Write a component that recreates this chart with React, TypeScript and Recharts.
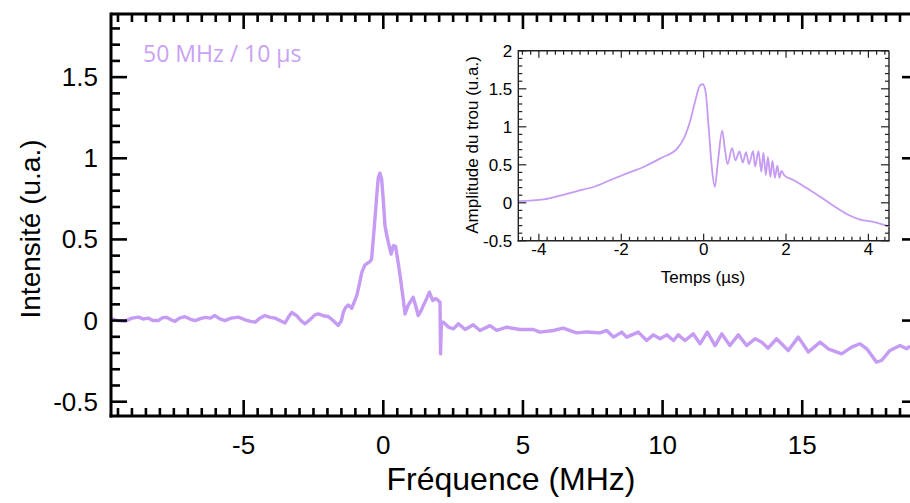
import React from 'react';
import { LineChart, Line, XAxis, YAxis, ReferenceLine } from 'recharts';

// ---- main spectrum (frequency in MHz, intensity in a.u.) ----
const freqMHz = [
  -9.72, -9.5, -9.25, -9.0, -8.77, -8.6, -8.41, -8.25, -8.06, -7.9, -7.76, -7.6, -7.46, -7.3, -7.1, -6.9,
  -6.74, -6.55, -6.38, -6.2, -6.03, -5.85, -5.67, -5.45, -5.19, -4.95, -4.75, -4.59, -4.42, -4.24, -4.05,
  -3.88, -3.7, -3.52, -3.4, -3.28, -3.1, -2.95, -2.8, -2.6, -2.45, -2.33, -2.15, -1.97, -1.8, -1.61, -1.5,
  -1.43, -1.35, -1.25, -1.13, -1.05, -0.95, -0.85, -0.77, -0.66, -0.55, -0.48, -0.42, -0.36, -0.3, -0.24,
  -0.18, -0.12, -0.06, 0.0, 0.06, 0.12, 0.18, 0.28, 0.36, 0.44, 0.52, 0.6, 0.7, 0.78, 0.88, 0.96, 1.07,
  1.16, 1.25, 1.35, 1.43, 1.55, 1.65, 1.77, 1.85, 1.91, 2.03, 2.05, 2.08, 2.15, 2.33, 2.51, 2.69, 2.93,
  3.22, 3.46, 3.82, 4.06, 4.42, 4.89, 5.37, 5.61, 6.09, 6.44, 6.92, 7.28, 7.76, 8.0, 8.24, 8.54, 8.71,
  9.13, 9.43, 9.67, 9.91, 10.15, 10.39, 10.56, 10.8, 11.1, 11.34, 11.6, 11.88, 12.12, 12.41, 12.71, 13.01,
  13.31, 13.55, 13.78, 14.08, 14.5, 14.86, 15.22, 15.64, 15.93, 16.41, 16.77, 17.07, 17.31, 17.66, 17.84,
  18.14, 18.5, 18.74, 18.86,
];
const intensity = [
  0.01, 0.0, -0.005, 0.015, 0.021, 0.01, 0.015, 0.0, 0.0, 0.018, 0.02, 0.005, -0.005, 0.015, 0.024, 0.008,
  0.0, 0.012, 0.02, 0.015, 0.031, 0.01, 0.0, 0.015, 0.021, 0.005, -0.005, -0.01, 0.015, 0.031, 0.02,
  0.015, 0.0, -0.015, 0.02, 0.05, 0.03, 0.0, -0.02, 0.01, 0.035, 0.041, 0.03, 0.025, 0.0, -0.03, 0.0,
  0.052, 0.08, 0.096, 0.075, 0.11, 0.154, 0.23, 0.297, 0.342, 0.355, 0.363, 0.379, 0.5, 0.625, 0.76,
  0.881, 0.908, 0.871, 0.74, 0.584, 0.53, 0.482, 0.41, 0.461, 0.457, 0.37, 0.277, 0.15, 0.041, 0.09, 0.113, 0.144,
  0.09, 0.031, 0.06, 0.092, 0.135, 0.175, 0.123, 0.135, 0.133, 0.113, -0.205, -0.01, -0.01, -0.04, -0.051, -0.02, -0.055,
  -0.026, -0.061, -0.031, -0.06, -0.041, -0.055, -0.055, -0.071, -0.061, -0.047, -0.076, -0.07, -0.076, -0.061, -0.102, -0.071, -0.102,
  -0.071, -0.123, -0.088, -0.112, -0.088, -0.123, -0.088, -0.123, -0.082, -0.143, -0.071, -0.154, -0.082, -0.154, -0.088, -0.154,
  -0.112, -0.133, -0.17, -0.112, -0.184, -0.102, -0.194, -0.133, -0.174, -0.205, -0.164, -0.143, -0.174, -0.256, -0.246,
  -0.184, -0.154, -0.174, -0.157,
];

// ---- inset: hole amplitude vs time (µs) ----
const timeUs = [
  -4.5, -3.88, -3.47, -3.07, -2.66, -2.26, -1.86, -1.45, -1.05, -0.64, -0.48, -0.32, -0.2, -0.08, -0.02,
  0.05, 0.12, 0.2, 0.27, 0.35, 0.45, 0.51, 0.58, 0.69, 0.77, 0.87, 0.95, 1.03, 1.1, 1.2, 1.25, 1.33, 1.4,
  1.45, 1.51, 1.56, 1.62, 1.67, 1.73, 1.79, 1.84, 1.89, 1.96, 2.18, 2.51, 2.83, 3.15, 3.48, 3.8, 4.12, 4.5,
];
const holeAmp = [
  0.022, 0.045, 0.097, 0.154, 0.211, 0.3, 0.387, 0.475, 0.585, 0.717, 0.848, 1.09, 1.35, 1.55, 1.56,
  1.45, 1.0, 0.46, 0.21, 0.56, 0.95, 0.73, 0.51, 0.72, 0.56, 0.675, 0.53, 0.665, 0.51, 0.68, 0.475, 0.68, 0.41,
  0.66, 0.365, 0.605, 0.34, 0.55, 0.33, 0.49, 0.33, 0.42, 0.36, 0.3, 0.19, 0.08, -0.04, -0.15, -0.22, -0.25, -0.31,
];

// ---- tick labels ----
const mainXLabels = [-5, 0, 5, 10, 15];
const mainYLabels = [-0.5, 0, 0.5, 1, 1.5];
const insetXLabels = [-4, -2, 0, 2, 4];
const insetYLabels = [-0.5, 0, 0.5, 1, 1.5, 2];

const mainData = freqMHz.map((f, i) => ({ f, v: intensity[i] }));
const insetData = timeUs.map((t, i) => ({ t, v: holeAmp[i] }));

const steps = (from: number, to: number, step: number) => {
  const out: number[] = [];
  const n = Math.round((to - from) / step);
  for (let i = 0; i <= n; i++) out.push(+(from + i * step).toFixed(4));
  return out;
};
const isMult = (v: number, m: number) => Math.abs(v / m - Math.round(v / m)) < 1e-6;

const LINE = '#c59bf4';
const FONT = '"Liberation Sans", Arial, sans-serif';

type TopCfg = {
  values: number[];
  major: number;
  majorLen: number;
  minorLen: number;
  y0: number; // top frame position
  x0: number; // plot left
  x1: number; // plot right
  d0: number; // x domain
  d1: number;
};

type TickCfg = {
  side: 'bottom' | 'left';
  major: number;
  majorLen: number;
  minorLen: number;
  sw: number;
  stroke: string;
  labels?: number[];
  fontSize?: number;
  offset?: number;
  dy?: number;
  mirrorAt?: number;
  mirrorMajorLen?: number;
  mirrorMinorLen?: number;
  top?: TopCfg; // drawn once, together with the y = 0 tick
};

const makeTick = (c: TickCfg) => (p: any) => {
  const { x, y, payload } = p;
  const v = payload.value as number;
  const isMajor = isMult(v, c.major);
  const len = isMajor ? c.majorLen : c.minorLen;
  const lines: any[] = [];
  let topPath: any = null;
  if (c.side === 'bottom') {
    if (len > 0) lines.push(<line key="a" x1={x} x2={x} y1={y} y2={y - len} />);
  } else {
    if (len > 0) lines.push(<line key="a" x1={x} x2={x + len} y1={y} y2={y} />);
    const mlen = isMajor ? c.mirrorMajorLen || 0 : c.mirrorMinorLen || 0;
    if (c.mirrorAt !== undefined && mlen > 0)
      lines.push(<line key="b" x1={c.mirrorAt} x2={c.mirrorAt - mlen} y1={y} y2={y} />);
    const t = c.top;
    if (t && Math.abs(v) < 1e-6) {
      const d = t.values
        .map((xv) => {
          const px = t.x0 + ((xv - t.d0) / (t.d1 - t.d0)) * (t.x1 - t.x0);
          const l = isMult(xv, t.major) ? t.majorLen : t.minorLen;
          return `M${px.toFixed(2)} ${t.y0}V${(t.y0 + l).toFixed(2)}`;
        })
        .join('');
      topPath = <path d={d} fill="none" stroke={c.stroke} strokeWidth={c.sw} />;
    }
  }
  let label: any = null;
  if (c.labels && isMajor && c.labels.some((l) => Math.abs(l - v) < 1e-6)) {
    label =
      c.side === 'bottom' ? (
        <text x={x} y={y + (c.offset || 0)} textAnchor="middle" fontSize={c.fontSize} fontFamily={FONT} fill="#000" stroke="none">
          {String(v)}
        </text>
      ) : (
        <text x={x - (c.offset || 0)} y={y + (c.dy || 0)} textAnchor="end" fontSize={c.fontSize} fontFamily={FONT} fill="#000" stroke="none">
          {String(v)}
        </text>
      );
  }
  return (
    <g stroke={c.stroke} strokeWidth={c.sw}>
      {lines}
      {topPath}
      {label}
    </g>
  );
};

const mainXTicks = steps(-9.5, 18.5, 0.5);
const mainYTicks = steps(-0.5, 1.8, 0.1);
const insetXTicks = steps(-4.4, 4.4, 0.2);
const insetYTicks = steps(-0.5, 2.0, 0.1);

const X_DOM: [number, number] = [-9.75, 18.93];
const Y_DOM: [number, number] = [-0.588, 1.889];
const IX_DOM: [number, number] = [-4.5, 4.5];
const IY_DOM: [number, number] = [-0.5, 2];

const frame = { stroke: '#000', strokeWidth: 3, strokeLinecap: 'square' as const };
const iframe = { stroke: '#222', strokeWidth: 1.4, strokeLinecap: 'square' as const };

export default function App() {
  return (
    <div style={{ position: 'absolute', left: 0, top: 0, width: 910, height: 503, overflow: 'hidden', background: '#fff' }}>
      <div style={{ position: 'absolute', left: 0, top: 0 }}>
        <LineChart width={914} height={503} data={mainData} margin={{ top: 14, right: 2, bottom: 0, left: 0 }}>
          <XAxis
            dataKey="f"
            type="number"
            xAxisId="b"
            orientation="bottom"
            domain={X_DOM}
            allowDataOverflow
            ticks={mainXTicks}
            interval={0}
            height={87}
            tickSize={0}
            tickMargin={0}
            axisLine={frame}
            tickLine={false}
            tick={makeTick({
              side: 'bottom', major: 5, majorLen: 16, minorLen: 8, sw: 2.6, stroke: '#000',
              labels: mainXLabels, fontSize: 26, offset: 38,
            })}
          />
          <YAxis
            type="number"
            yAxisId="l"
            orientation="left"
            domain={Y_DOM}
            allowDataOverflow
            ticks={mainYTicks}
            interval={0}
            width={111}
            tickSize={0}
            tickMargin={0}
            axisLine={frame}
            tickLine={false}
            tick={makeTick({
              side: 'left', major: 0.5, majorLen: 16, minorLen: 9, sw: 2.6, stroke: '#000',
              labels: mainYLabels, fontSize: 26, offset: 13, dy: 9,
              mirrorAt: 912, mirrorMajorLen: 10, mirrorMinorLen: 0,
              top: {
                values: mainXTicks, major: 5, majorLen: 15, minorLen: 8,
                y0: 14, x0: 111, x1: 912, d0: X_DOM[0], d1: X_DOM[1],
              },
            })}
          />
          <ReferenceLine xAxisId="b" yAxisId="l" y={Y_DOM[1]} ifOverflow="visible" stroke="#000" strokeWidth={3} />
          <Line
            xAxisId="b"
            yAxisId="l"
            dataKey="v"
            type="linear"
            stroke={LINE}
            strokeWidth={3.4}
            strokeLinejoin="round"
            dot={false}
            isAnimationActive={false}
          />
          <text x={143} y={62} fontSize={23} fontFamily='"Open Sans", sans-serif' fill="#c9a2f5">
            50 MHz / 10 µs
          </text>
          <text x={511} y={490} textAnchor="middle" fontSize={32} fontFamily={FONT} fill="#000">
            Fréquence (MHz)
          </text>
          <text
            x={40}
            y={229}
            textAnchor="middle"
            fontSize={28}
            fontFamily={FONT}
            fill="#000"
            transform="rotate(-90 40 229)"
          >
            Intensité (u.a.)
          </text>
        </LineChart>
      </div>

      <div style={{ position: 'absolute', left: 440, top: 30 }}>
        <LineChart width={470} height={260} data={insetData} margin={{ top: 20.8, right: 21, bottom: 0, left: 0 }}>
          <XAxis
            dataKey="t"
            type="number"
            xAxisId="b"
            orientation="bottom"
            domain={IX_DOM}
            allowDataOverflow
            ticks={insetXTicks}
            interval={0}
            height={49.2}
            tickSize={0}
            tickMargin={0}
            axisLine={iframe}
            tickLine={false}
            tick={makeTick({
              side: 'bottom', major: 2, majorLen: 7, minorLen: 4, sw: 1.2, stroke: '#222',
              labels: insetXLabels, fontSize: 17, offset: 14,
            })}
          />
          <YAxis
            type="number"
            yAxisId="l"
            orientation="left"
            domain={IY_DOM}
            allowDataOverflow
            ticks={insetYTicks}
            interval={0}
            width={78.3}
            tickSize={0}
            tickMargin={0}
            axisLine={iframe}
            tickLine={false}
            tick={makeTick({
              side: 'left', major: 0.5, majorLen: 8, minorLen: 4, sw: 1.2, stroke: '#222',
              labels: insetYLabels, fontSize: 17, offset: 6, dy: 6,
              mirrorAt: 449, mirrorMajorLen: 8, mirrorMinorLen: 4,
              top: {
                values: insetXTicks, major: 2, majorLen: 7, minorLen: 4,
                y0: 20.8, x0: 78.3, x1: 449, d0: IX_DOM[0], d1: IX_DOM[1],
              },
            })}
          />
          <ReferenceLine xAxisId="b" yAxisId="l" y={IY_DOM[1]} ifOverflow="visible" stroke="#222" strokeWidth={1.4} />
          <ReferenceLine xAxisId="b" yAxisId="l" x={IX_DOM[1]} ifOverflow="visible" stroke="#222" strokeWidth={1.4} />
          <Line
            xAxisId="b"
            yAxisId="l"
            dataKey="v"
            type="monotone"
            stroke={LINE}
            strokeWidth={1.8}
            dot={false}
            isAnimationActive={false}
          />
          <text x={263} y={253} textAnchor="middle" fontSize={17} fontFamily={FONT} fill="#000">
            Temps (µs)
          </text>
          <text
            x={37.7}
            y={115}
            textAnchor="middle"
            fontSize={17}
            fontFamily={FONT}
            fill="#000"
            transform="rotate(-90 37.7 115)"
          >
            Amplitude du trou (u.a.)
          </text>
        </LineChart>
      </div>
    </div>
  );
}
